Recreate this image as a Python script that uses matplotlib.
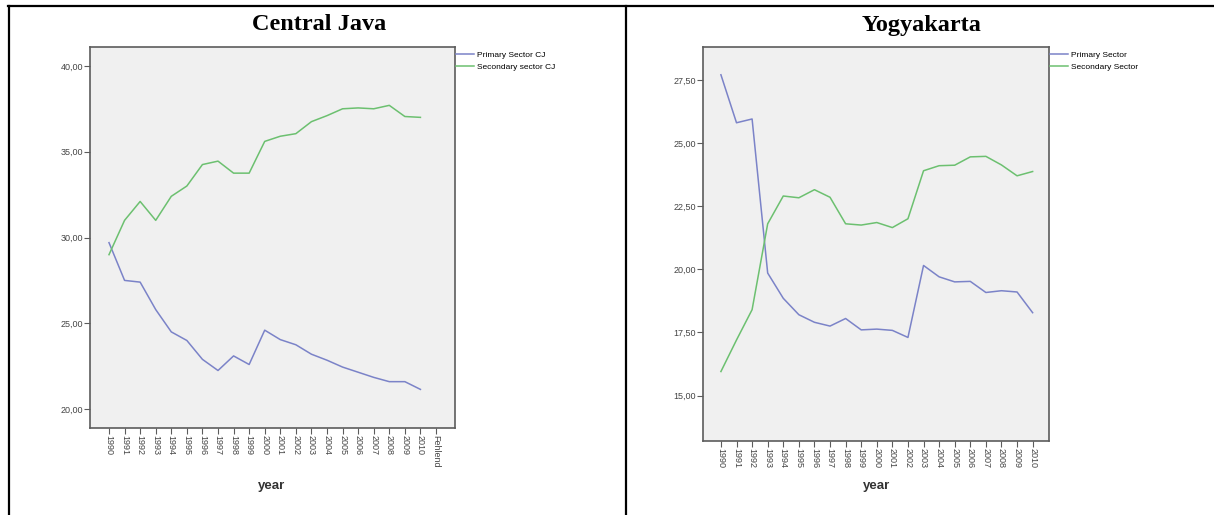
import matplotlib
matplotlib.use("Agg")
import matplotlib.pyplot as plt
from matplotlib.lines import Line2D

# Central Java shares (%), 1990-2010 plus the "Fehlend" (missing) category
cj_years = [str(y) for y in range(1990, 2011)] + ["Fehlend"]
cj_primary = [29.7, 27.5, 27.4, 25.8, 24.5, 24.0, 22.9, 22.25, 23.1, 22.6, 24.6,
              24.05, 23.75, 23.2, 22.85, 22.45, 22.15, 21.85, 21.6, 21.6, 21.15]
cj_secondary = [29.0, 31.0, 32.1, 31.0, 32.4, 33.0, 34.25, 34.45, 33.75, 33.75, 35.6,
                35.9, 36.05, 36.75, 37.1, 37.5, 37.55, 37.5, 37.7, 37.05, 37.0]

# Yogyakarta shares (%), 1990-2010
yk_years = [str(y) for y in range(1990, 2011)]
yk_primary = [27.7, 25.8, 25.95, 19.85, 18.85, 18.2, 17.9, 17.75, 18.05, 17.6, 17.63,
              17.58, 17.3, 20.15, 19.7, 19.5, 19.52, 19.08, 19.15, 19.1, 18.28]
yk_secondary = [15.95, 17.2, 18.4, 21.8, 22.9, 22.83, 23.15, 22.85, 21.8, 21.75, 21.85,
                21.65, 22.0, 23.9, 24.1, 24.12, 24.45, 24.47, 24.13, 23.7, 23.87]

BLUE = "#7b83c8"
GREEN = "#6cc070"
BG = "#f0f0f0"
FRAME = "#5c5c5c"
TXT = "#444444"

plt.rcParams["font.family"] = ["Liberation Sans", "DejaVu Sans"]

fig = plt.figure(figsize=(12.14, 5.15), dpi=100)
W, H = 1214, 515


def px_axes(x0, x1, y0, y1):
    return fig.add_axes([x0 / W, 1 - y1 / H, (x1 - x0) / W, (y1 - y0) / H])


def style(ax, labels, yticks, ylim, xpad_l, xpad_r):
    ax.set_facecolor(BG)
    for s in ax.spines.values():
        s.set_color(FRAME)
        s.set_linewidth(1.2)
    ax.set_xticks(range(len(labels)))
    ax.set_xticklabels(labels, rotation=-90, fontsize=6.5, color=TXT)
    ax.set_yticks(yticks)
    ax.set_yticklabels([f"{v:.2f}".replace(".", ",") for v in yticks],
                       fontsize=6.5, color=TXT)
    ax.tick_params(length=4, width=0.8, color=FRAME, pad=1)
    ax.set_xlim(-xpad_l, len(labels) - 1 + xpad_r)
    ax.set_ylim(*ylim)


def legend(ax):
    ax.legend(loc="upper left", bbox_to_anchor=(1.003, 0.99), frameon=False,
              fontsize=6, handlelength=2.2, handletextpad=0.3, labelspacing=0.55,
              borderaxespad=0, borderpad=0)


# Central Java panel
ax1 = px_axes(90, 455, 47, 428)
x1 = range(len(cj_primary))
ax1.plot(x1, cj_primary, color=BLUE, lw=1.1, label="Primary Sector CJ")
ax1.plot(x1, cj_secondary, color=GREEN, lw=1.1, label="Secondary sector CJ")
style(ax1, cj_years, [20, 25, 30, 35, 40], (18.9, 41.1), 1.22, 1.22)
legend(ax1)

# Yogyakarta panel
ax2 = px_axes(703, 1049, 47, 441)
x2 = range(len(yk_primary))
ax2.plot(x2, yk_primary, color=BLUE, lw=1.1, label="Primary Sector")
ax2.plot(x2, yk_secondary, color=GREEN, lw=1.1, label="Secondary Sector")
style(ax2, yk_years, [15, 17.5, 20, 22.5, 25, 27.5], (13.2, 28.8), 1.15, 1.05)
legend(ax2)

# table-style titles and x-axis labels
fig.text(319 / W, 1 - 25 / H, "Central Java", ha="center", va="center",
         fontsize=17.5, fontweight="bold", family="Liberation Serif")
fig.text(922 / W, 1 - 25 / H, "Yogyakarta", ha="center", va="center",
         fontsize=17.5, fontweight="bold", family="Liberation Serif")
fig.text(272 / W, 1 - 486 / H, "year", ha="center", va="center",
         fontsize=9.5, fontweight="bold", color="#333333")
fig.text(877 / W, 1 - 486 / H, "year", ha="center", va="center",
         fontsize=9.5, fontweight="bold", color="#333333")

# cell borders
for xs, ys in [((8 / W, 1.0), (1 - 5.5 / H, 1 - 5.5 / H)),
               ((9 / W, 9 / W), (0, 1 - 5.5 / H)),
               ((626 / W, 626 / W), (0, 1 - 5.5 / H))]:
    fig.add_artist(Line2D(xs, ys, color="black", lw=1.6))

fig.savefig("out.png", dpi=100)
